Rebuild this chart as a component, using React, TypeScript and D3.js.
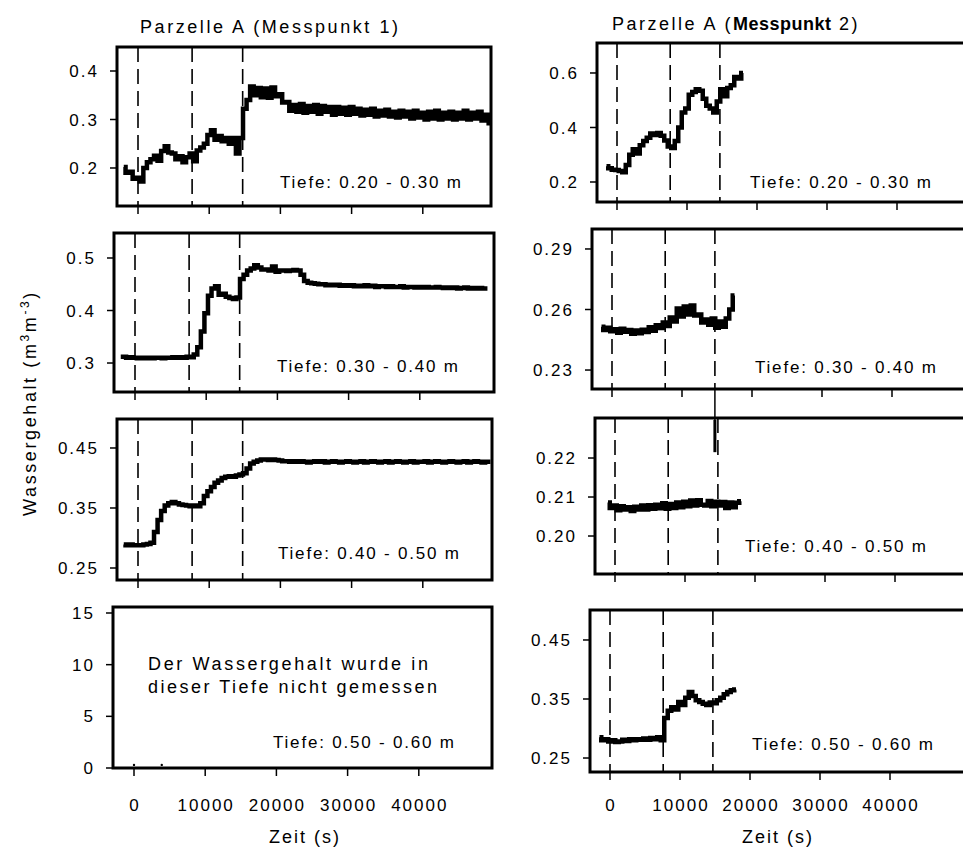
import React from 'react';
import * as d3 from 'd3';

const W = 963;
const H = 849;
const FONT = '"Liberation Sans", Arial, sans-serif';
const STEP = 500; // sampling interval (s)

// event times (dashed lines), x ticks, depth labels
const events = [0, 7600, 14700];
const xTicks = [0, 10000, 20000, 30000, 40000];
const depths = ['Tiefe: 0.20 - 0.30 m', 'Tiefe: 0.30 - 0.40 m', 'Tiefe: 0.40 - 0.50 m', 'Tiefe: 0.50 - 0.60 m'];

// Messpunkt 1, start -2000 s
const left1 = [
  0.202, 0.190, 0.192, 0.178, 0.180, 0.172, 0.200, 0.212, 0.218, 0.225,
  0.215, 0.235, 0.245, 0.232, 0.230, 0.218, 0.224, 0.212, 0.222, 0.230,
  0.214, 0.236, 0.242, 0.250, 0.268, 0.278, 0.258, 0.266, 0.255, 0.262,
  0.250, 0.262, 0.230, 0.262, 0.322, 0.340, 0.368, 0.350, 0.365, 0.346,
  0.364, 0.345, 0.366, 0.348, 0.352, 0.335, 0.336, 0.318, 0.330, 0.316,
  0.332, 0.314, 0.328, 0.316, 0.330, 0.312, 0.328, 0.316, 0.326, 0.310,
  0.326, 0.312, 0.324, 0.310, 0.326, 0.312, 0.322, 0.308, 0.320, 0.310,
  0.322, 0.306, 0.318, 0.308, 0.320, 0.306, 0.316, 0.304, 0.318, 0.306,
  0.316, 0.302, 0.318, 0.304, 0.314, 0.300, 0.316, 0.302, 0.318, 0.300,
  0.314, 0.302, 0.316, 0.300, 0.314, 0.302, 0.318, 0.300, 0.314, 0.302,
  0.316, 0.298, 0.310, 0.292,
];
const left2 = [
  0.312, 0.312, 0.310, 0.311, 0.310, 0.309, 0.310, 0.309, 0.310, 0.309,
  0.310, 0.310, 0.309, 0.310, 0.310, 0.311, 0.310, 0.311, 0.310, 0.312,
  0.311, 0.316, 0.330, 0.360, 0.395, 0.428, 0.442, 0.446, 0.430, 0.432,
  0.426, 0.424, 0.422, 0.425, 0.460, 0.468, 0.476, 0.480, 0.486, 0.482,
  0.478, 0.478, 0.476, 0.484, 0.474, 0.476, 0.476, 0.475, 0.476, 0.477,
  0.476, 0.468, 0.456, 0.453, 0.452, 0.451, 0.450, 0.450, 0.448, 0.449,
  0.448, 0.449, 0.447, 0.448, 0.447, 0.448, 0.446, 0.447, 0.446, 0.448,
  0.446, 0.447, 0.445, 0.446, 0.446, 0.445, 0.446, 0.445, 0.445, 0.446,
  0.444, 0.445, 0.445, 0.444, 0.445, 0.444, 0.445, 0.444, 0.444, 0.445,
  0.444, 0.443, 0.444, 0.443, 0.444, 0.442, 0.443, 0.444, 0.442, 0.443,
  0.442, 0.443, 0.442, 0.442,
];
const left3 = [
  0.289, 0.288, 0.289, 0.288, 0.288, 0.288, 0.289, 0.290, 0.292, 0.310,
  0.330, 0.345, 0.354, 0.358, 0.360, 0.358, 0.356, 0.355, 0.354, 0.353,
  0.354, 0.353, 0.358, 0.370, 0.378, 0.385, 0.392, 0.396, 0.400, 0.402,
  0.403, 0.402, 0.404, 0.406, 0.408, 0.416, 0.424, 0.427, 0.429, 0.431,
  0.431, 0.430, 0.431, 0.430, 0.429, 0.428, 0.428, 0.427, 0.428, 0.427,
  0.428, 0.427, 0.426, 0.427, 0.428, 0.427, 0.428, 0.426, 0.427, 0.428,
  0.427, 0.426, 0.427, 0.428, 0.427, 0.426, 0.427, 0.428, 0.426, 0.427,
  0.428, 0.427, 0.426, 0.427, 0.428, 0.426, 0.427, 0.428, 0.427, 0.426,
  0.427, 0.428, 0.426, 0.427, 0.427, 0.428, 0.426, 0.427, 0.428, 0.427,
  0.426, 0.427, 0.428, 0.427, 0.426, 0.427, 0.428, 0.426, 0.427, 0.428,
  0.427, 0.426, 0.427, 0.427,
];
// not measured: only two stray points
const left4Dots: [number, number][] = [[0, 0.3], [3900, 0.3]];

// Messpunkt 2
const right1 = [
  0.258, 0.250, 0.245, 0.244, 0.240, 0.236, 0.262, 0.300, 0.320, 0.305,
  0.335, 0.350, 0.362, 0.378, 0.372, 0.380, 0.370, 0.352, 0.330, 0.325,
  0.350, 0.400, 0.455, 0.470, 0.520, 0.530, 0.540, 0.535, 0.505, 0.480,
  0.470, 0.455, 0.495, 0.540, 0.515, 0.545, 0.555, 0.585, 0.580, 0.600,
];
const right2 = [
  0.2515, 0.2498, 0.2510, 0.2492, 0.2502, 0.2485, 0.2505, 0.2490, 0.2498, 0.2480,
  0.2496, 0.2482, 0.2500, 0.2488, 0.2512, 0.2495, 0.2522, 0.2508, 0.2535, 0.2518,
  0.2560, 0.2540, 0.2605, 0.2565, 0.2615, 0.2575, 0.2620, 0.2570, 0.2575, 0.2535,
  0.2550, 0.2525, 0.2555, 0.2510, 0.2540, 0.2515, 0.2555, 0.2600, 0.2670,
];
const right3 = [
  0.2086, 0.2072, 0.2078, 0.2066, 0.2076, 0.2068, 0.2074, 0.2064, 0.2075, 0.2068,
  0.2078, 0.2068, 0.2079, 0.2070, 0.2080, 0.2071, 0.2084, 0.2070, 0.2082, 0.2072,
  0.2086, 0.2074, 0.2088, 0.2076, 0.2091, 0.2078, 0.2092, 0.2080, 0.2078, 0.2090,
  0.2076, 0.2088, 0.2078, 0.2087, 0.2072, 0.2086, 0.2074, 0.2085, 0.2089,
];
const right4 = [
  0.285, 0.280, 0.282, 0.278, 0.280, 0.277, 0.278, 0.281, 0.279, 0.282,
  0.280, 0.282, 0.281, 0.283, 0.281, 0.284, 0.282, 0.285, 0.280, 0.318,
  0.330, 0.336, 0.332, 0.345, 0.340, 0.352, 0.362, 0.355, 0.348, 0.345,
  0.342, 0.340, 0.344, 0.343, 0.348, 0.352, 0.358, 0.362, 0.365, 0.366,
];

type Col = { zero: number; px: number };
const colL: Col = { zero: 21, px: 71.2 };
const colR: Col = { zero: 20, px: 70 };

type Panel = {
  col: Col; x0: number; x1: number; y0: number; y1: number;
  yDom: [number, number]; yTicks: number[]; fmt: string;
  series: number[] | null; tStart: number; depth: string; lx: number; ly: number;
  bottom: boolean; dashed: boolean;
};

const panels: Panel[] = [
  { col: colL, x0: 117, x1: 491, y0: 47, y1: 206, yDom: [0.1216, 0.4495], yTicks: [0.2, 0.3, 0.4], fmt: '.1f', series: left1, tStart: -2000, depth: depths[0], lx: 280, ly: 188, bottom: false, dashed: true },
  { col: colL, x0: 114, x1: 494, y0: 233, y1: 392, yDom: [0.2448, 0.5476], yTicks: [0.3, 0.4, 0.5], fmt: '.1f', series: left2, tStart: -2000, depth: depths[1], lx: 277, ly: 372, bottom: false, dashed: true },
  { col: colL, x0: 117, x1: 492, y0: 419, y1: 580, yDom: [0.23, 0.4983], yTicks: [0.25, 0.35, 0.45], fmt: '.2f', series: left3, tStart: -2000, depth: depths[2], lx: 278, ly: 559, bottom: false, dashed: true },
  { col: colL, x0: 113, x1: 492, y0: 607, y1: 768, yDom: [0, 15.58], yTicks: [0, 5, 10, 15], fmt: 'd', series: null, tStart: 0, depth: depths[3], lx: 273, ly: 748, bottom: true, dashed: false },
  { col: colR, x0: 597, x1: 980, y0: 43, y1: 202, yDom: [0.1266, 0.71], yTicks: [0.2, 0.4, 0.6], fmt: '.1f', series: right1, tStart: -1500, depth: depths[0], lx: 750, ly: 188, bottom: false, dashed: true },
  { col: colR, x0: 592, x1: 980, y0: 229, y1: 389, yDom: [0.2206, 0.2999], yTicks: [0.23, 0.26, 0.29], fmt: '.2f', series: right2, tStart: -1500, depth: depths[1], lx: 755, ly: 373, bottom: false, dashed: true },
  { col: colR, x0: 595, x1: 980, y0: 418, y1: 574, yDom: [0.19026, 0.23026], yTicks: [0.2, 0.21, 0.22], fmt: '.2f', series: right3, tStart: -1000, depth: depths[2], lx: 745, ly: 552, bottom: false, dashed: true },
  { col: colR, x0: 590, x1: 980, y0: 610, y1: 772, yDom: [0.2263, 0.5008], yTicks: [0.25, 0.35, 0.45], fmt: '.2f', series: right4, tStart: -1500, depth: depths[3], lx: 752, ly: 750, bottom: true, dashed: true },
];

function xScale(p: Panel) {
  return d3.scaleLinear().domain([0, 10000]).range([p.x0 + p.col.zero, p.x0 + p.col.zero + p.col.px]);
}

function PanelView({ p, idx }: { p: Panel; idx: number }) {
  const x = xScale(p);
  const y = d3.scaleLinear().domain(p.yDom).range([p.y1, p.y0]);
  const fmt = d3.format(p.fmt);
  // blocky stair-step trace like the logger output
  const line = d3.line<number>()
    .x((_, i) => x(p.tStart + i * STEP))
    .y(d => y(d))
    .curve(d3.curveStep);
  return (
    <g>
      {p.dashed && events.map(e => (
        <line key={e} x1={x(e)} x2={x(e)} y1={p.y0} y2={p.y1} stroke="#000" strokeWidth={1.6} strokeDasharray="15,7" />
      ))}
      {p.series && (
        <path d={line(p.series) || ''} fill="none" stroke="#000" strokeWidth={4.5} strokeLinejoin="miter" />
      )}
      {idx === 3 && left4Dots.map(([t, v], i) => (
        <circle key={i} cx={x(t)} cy={y(v)} r={1.2} fill="#000" />
      ))}
      <rect x={p.x0} y={p.y0} width={p.x1 - p.x0} height={p.y1 - p.y0} fill="none" stroke="#000" strokeWidth={3} />
      {p.yTicks.map(v => (
        <g key={v}>
          <line x1={p.x0 - 7} x2={p.x0} y1={y(v)} y2={y(v)} stroke="#000" strokeWidth={1.5} />
          <text x={p.x0 - 18} y={y(v)} dy="0.36em" textAnchor="end" fontSize={17} style={{ letterSpacing: '2px' }}>{fmt(v)}</text>
        </g>
      ))}
      {xTicks.map(t => (
        <g key={t}>
          <line x1={x(t)} x2={x(t)} y1={p.y1} y2={p.y1 + 8} stroke="#000" strokeWidth={1.5} />
          {p.bottom && (
            <text x={x(t) + 1} y={811} textAnchor="middle" fontSize={17} style={{ letterSpacing: '2px' }}>{t}</text>
          )}
        </g>
      ))}
      <text x={p.lx} y={p.ly} fontSize={17} textLength={181} lengthAdjust="spacing">{p.depth}</text>
    </g>
  );
}

export default function App() {
  const pR2 = panels[5];
  const pR3 = panels[6];
  const xr2 = xScale(pR2);
  const yr3 = d3.scaleLinear().domain(pR3.yDom).range([pR3.y1, pR3.y0]);
  const gx = xr2(events[2]);
  return (
    <div style={{ position: 'absolute', left: 0, top: 0 }}>
      <svg width={W} height={H} style={{ display: 'block', background: '#fff' }} fontFamily={FONT}>
        <rect width={W} height={H} fill="#fff" />
        <text x={140} y={33} fontSize={18} textLength={258} lengthAdjust="spacing">Parzelle A (Messpunkt 1)</text>
        <text x={612} y={30} fontSize={18}>
          <tspan style={{ letterSpacing: '2.5px' }}>Parzelle A (</tspan>
          <tspan fontWeight="bold" style={{ letterSpacing: '0.5px' }}>Messpunkt</tspan>
          <tspan style={{ letterSpacing: '2.5px' }}> 2)</tspan>
        </text>
        {panels.map((p, i) => <PanelView key={i} p={p} idx={i} />)}
        {/* stray vertical line between Messpunkt 2 panels */}
        <line x1={gx} x2={gx} y1={pR2.y1} y2={pR3.y0 + 2} stroke="#000" strokeWidth={1.5} />
        <line x1={gx} x2={gx} y1={pR3.y0 + 2} y2={yr3(0.2215)} stroke="#000" strokeWidth={3} />
        <text x={148} y={670} fontSize={18} textLength={280} lengthAdjust="spacing">Der Wassergehalt wurde in</text>
        <text x={148} y={693} fontSize={18} textLength={289} lengthAdjust="spacing">dieser Tiefe nicht gemessen</text>
        <text x={305} y={843} fontSize={18} textAnchor="middle" style={{ letterSpacing: '2px' }}>Zeit (s)</text>
        <text x={778} y={843} fontSize={18} textAnchor="middle" style={{ letterSpacing: '2px' }}>Zeit (s)</text>
        <text transform="translate(36,403) rotate(-90)" textAnchor="middle" fontSize={18} style={{ letterSpacing: '2.6px' }}>
          Wassergehalt (m<tspan dy={-7} fontSize={12}>3</tspan><tspan dy={7}>m</tspan><tspan dy={-7} fontSize={12}>-3</tspan><tspan dy={7}>)</tspan>
        </text>
      </svg>
    </div>
  );
}
